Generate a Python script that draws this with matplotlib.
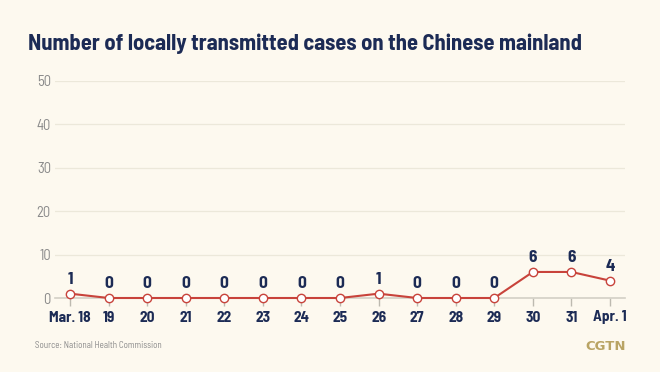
import matplotlib
matplotlib.use("Agg")
import matplotlib.pyplot as plt
import numpy as np

# data
dates = ["Mar. 18", "19", "20", "21", "22", "23", "24", "25", "26", "27", "28", "29", "30", "31", "Apr. 1"]
cases = [1, 0, 0, 0, 0, 0, 0, 0, 1, 0, 0, 0, 6, 6, 4]
yticks = [0, 10, 20, 30, 40, 50]

bg = "#fdf9ef"
navy = "#1c2b55"
red = "#c8433b"
grey = "#8a8a8a"
fam = ["Barlow Semi Condensed", "DejaVu Sans"]

plt.rcParams["font.family"] = fam

fig = plt.figure(figsize=(6.6, 3.72), dpi=100, facecolor=bg)
ax = fig.add_axes([55/660, 74/372, 570/660, 217/372], facecolor=bg)

x = np.arange(len(dates))
ax.plot(x, cases, color=red, lw=1.5, marker="o", ms=6, mfc="white", mec=red, mew=1.0,
        clip_on=False, zorder=3)
for xi, v in zip(x, cases):
    ax.annotate(str(v), (xi, v), xytext=(0, 5), textcoords="offset points", ha="center",
                va="bottom", fontsize=12.5, fontweight="bold", color=navy)

ax.set_xlim(-0.39, len(dates) - 1 + 0.39)
ax.set_ylim(0, 50)
ax.set_yticks(yticks)
ax.set_yticklabels([str(t) for t in yticks], color=grey, fontsize=10.5)
ax.tick_params(axis="y", length=0, pad=3)
ax.set_xticks(x)
ax.set_xticklabels(dates, color=navy, fontsize=11, fontweight="bold")
ax.tick_params(axis="x", length=6, width=1, color="#bdbab0", pad=3)
ax.grid(axis="y", color="#ece8da", lw=0.9)
ax.set_axisbelow(True)
for s in ["top", "right", "left"]:
    ax.spines[s].set_visible(False)
ax.spines["bottom"].set_color("#d3d0c6")
ax.spines["bottom"].set_linewidth(1.2)

fig.text(28/660, 1 - 44/372, "Number of locally transmitted cases on the Chinese mainland",
         fontsize=16.2, fontweight="bold", color=navy, va="center", ha="left")
fig.text(35/660, 1 - 346/372, "Source: National Health Commission", fontsize=6.5, color=grey,
         va="center", ha="left")
fig.text(626/660, 1 - 346/372, "CGTN", fontsize=9.5, fontweight="bold", color="#b9a464",
         va="center", ha="right", family="DejaVu Sans")

fig.savefig("out.png", dpi=100, facecolor=bg)
